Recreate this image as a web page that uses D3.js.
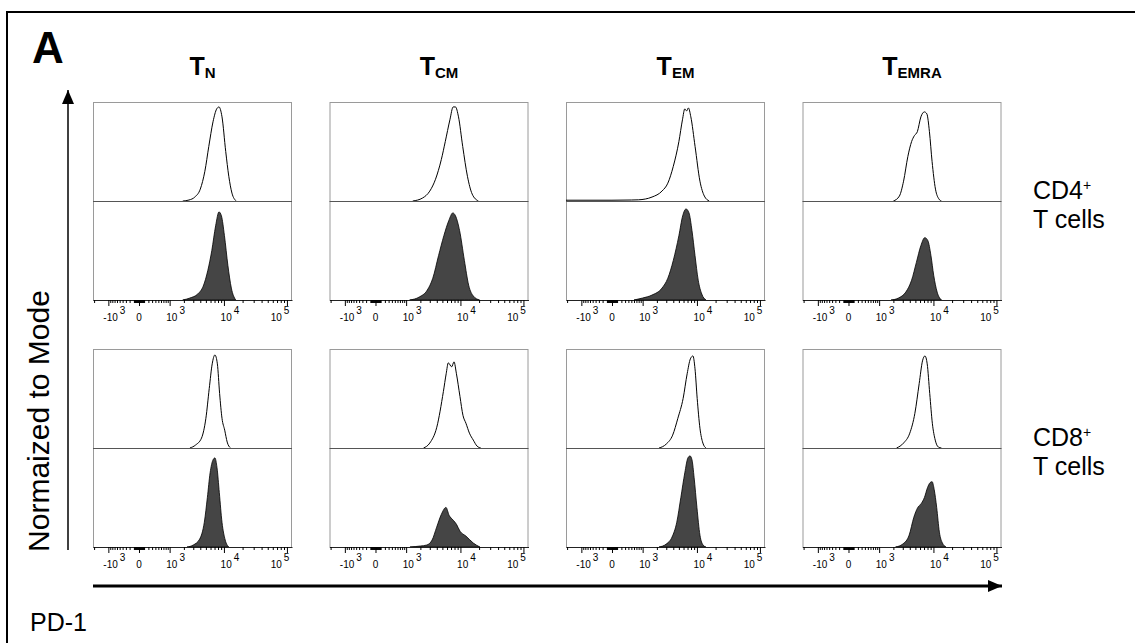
<!DOCTYPE html>
<html>
<head>
<meta charset="utf-8">
<script src="https://cdn.jsdelivr.net/npm/d3@7"></script>
<style>
  body { margin: 0; background: #fff; }
  text { font-family: "Liberation Sans", Arial, sans-serif; fill: #000; }
</style>
</head>
<body>
<svg id="fig" width="1135" height="643"></svg>
<script>
// column headers: T + subscript
const colSub = ["N", "CM", "EM", "EMRA"];
// row labels
const rowNames = ["CD4", "CD8"];
const rowSecond = "T cells";

// PD-1 axis (biexponential-like display)
const majorTicks = [-1000, 0, 1000, 10000, 100000];
const majorBase = ["-10", "0", "10", "10", "10"];
const majorExp = ["3", "", "3", "4", "5"];
const minorTicks = [-2000, -900, -800, -700, -600, -500, -400, -300, -200, -100,
  -90, -80, -70, -60, -50, -40, -30, -20, -10, 10, 20, 30, 40, 50, 60, 70, 80, 90,
  100, 200, 300, 400, 500, 600, 700, 800, 900,
  2000, 3000, 4000, 5000, 6000, 7000, 8000, 9000,
  20000, 30000, 40000, 50000, 60000, 70000, 80000, 90000];

// histograms: [PD-1 intensity, height normalized to mode]
// CD4+ T cells, open (upper) traces
const cd4OpenTN = [[1900, 0], [2500, 0.01], [3200, 0.04], [4000, 0.12], [4800, 0.3], [5600, 0.55], [6600, 0.8], [7600, 0.93], [8300, 0.95], [9300, 0.85], [10700, 0.5], [12000, 0.25], [13500, 0.08], [15800, 0]];
const cd4OpenTCM = [[1400, 0], [2200, 0.03], [3000, 0.1], [3800, 0.22], [4800, 0.42], [5600, 0.6], [6700, 0.82], [7600, 0.95], [8300, 0.95], [9300, 0.85], [10900, 0.55], [13000, 0.25], [15500, 0.07], [19500, 0]];
const cd4OpenTEM = [[-2100, 0.008], [0, 0.008], [500, 0.01], [800, 0.012], [1600, 0.04], [2500, 0.1], [3200, 0.18], [4000, 0.35], [5000, 0.6], [5750, 0.82], [6300, 0.93], [6760, 0.91], [7240, 0.94], [7940, 0.85], [9330, 0.55], [11200, 0.2], [13200, 0.05], [15800, 0]];
const cd4OpenTEMRA = [[2000, 0], [2600, 0.05], [3100, 0.2], [3700, 0.45], [4300, 0.6], [4800, 0.66], [5400, 0.7], [6200, 0.85], [7100, 0.9], [7800, 0.88], [8600, 0.7], [9500, 0.4], [10800, 0.12], [12300, 0.02], [13500, 0]];
// CD4+ T cells, filled (lower) traces
const cd4FillTN = [[1900, 0], [2600, 0.02], [3600, 0.06], [4500, 0.14], [5400, 0.3], [6300, 0.5], [7300, 0.75], [8300, 0.89], [9100, 0.85], [10200, 0.65], [11600, 0.35], [13200, 0.12], [15500, 0]];
const cd4FillTCM = [[1200, 0], [1900, 0.03], [2700, 0.1], [3400, 0.22], [4300, 0.45], [5300, 0.65], [6400, 0.8], [7500, 0.88], [8300, 0.85], [9700, 0.7], [11600, 0.4], [13600, 0.15], [16200, 0.04], [20300, 0]];
const cd4FillTEM = [[600, 0], [1000, 0.02], [1600, 0.05], [2500, 0.12], [3200, 0.22], [4000, 0.4], [5000, 0.65], [5800, 0.85], [6600, 0.92], [7400, 0.88], [8300, 0.7], [9300, 0.45], [10500, 0.2], [12000, 0.06], [14000, 0]];
const cd4FillTEMRA = [[1800, 0], [2500, 0.02], [3400, 0.08], [4300, 0.2], [5200, 0.38], [6200, 0.55], [7200, 0.63], [8100, 0.6], [9100, 0.45], [10100, 0.25], [11500, 0.08], [13500, 0]];
// CD8+ T cells, open (upper) traces
const cd8OpenTN = [[2600, 0], [3300, 0.03], [4200, 0.1], [5000, 0.3], [5700, 0.6], [6400, 0.85], [7100, 0.94], [7800, 0.85], [8500, 0.55], [9300, 0.3], [10300, 0.18], [11300, 0.06], [12800, 0]];
const cd8OpenTCM = [[2300, 0], [3000, 0.05], [4000, 0.21], [5200, 0.57], [5800, 0.75], [6300, 0.86], [7170, 0.82], [7840, 0.87], [8600, 0.75], [9830, 0.52], [11000, 0.33], [12300, 0.25], [14000, 0.15], [16150, 0.08], [18500, 0.02], [21300, 0]];
const cd8OpenTEM = [[2200, 0], [3000, 0.04], [3900, 0.13], [4800, 0.3], [5900, 0.5], [6900, 0.75], [7800, 0.9], [8600, 0.93], [9300, 0.8], [10100, 0.5], [11200, 0.2], [12500, 0.05], [14000, 0]];
const cd8OpenTEMRA = [[2300, 0], [3100, 0.05], [4000, 0.15], [4900, 0.35], [5800, 0.65], [6600, 0.88], [7250, 0.93], [7900, 0.85], [8700, 0.55], [9600, 0.25], [10700, 0.08], [12000, 0.01], [13500, 0]];
// CD8+ T cells, filled (lower) traces
const cd8FillTN = [[2300, 0], [3000, 0.02], [3900, 0.08], [4700, 0.25], [5300, 0.5], [5900, 0.75], [6600, 0.88], [7100, 0.9], [7700, 0.8], [8400, 0.55], [9300, 0.25], [10500, 0.07], [12000, 0]];
const cd8FillTCM = [[1220, 0], [2000, 0.01], [2640, 0.02], [3300, 0.07], [3980, 0.2], [4800, 0.33], [5750, 0.4], [6500, 0.32], [7630, 0.27], [8600, 0.23], [9830, 0.16], [12300, 0.11], [16150, 0.04], [20600, 0]];
const cd8FillTEM = [[2200, 0], [3000, 0.03], [3800, 0.1], [4600, 0.25], [5400, 0.5], [6300, 0.75], [7100, 0.9], [7700, 0.92], [8300, 0.88], [9000, 0.7], [10000, 0.4], [11200, 0.12], [12600, 0.02], [14000, 0]];
const cd8FillTEMRA = [[2200, 0], [3000, 0.03], [3900, 0.12], [4700, 0.3], [5500, 0.4], [6300, 0.44], [7100, 0.5], [8000, 0.6], [8800, 0.65], [9500, 0.66], [10300, 0.58], [11300, 0.4], [12500, 0.15], [14000, 0.04], [16000, 0]];

const openData = [
  [cd4OpenTN, cd4OpenTCM, cd4OpenTEM, cd4OpenTEMRA],
  [cd8OpenTN, cd8OpenTCM, cd8OpenTEM, cd8OpenTEMRA]
];
const fillData = [
  [cd4FillTN, cd4FillTCM, cd4FillTEM, cd4FillTEMRA],
  [cd8FillTN, cd8FillTCM, cd8FillTEM, cd8FillTEMRA]
];

// layout
const panelW = 199, subH = 99;
const colX = [93, 329.5, 566, 802.5];
const rowY = [102, 349];

const svg = d3.select("#fig");

// frame (left + top only, the rest is cut off)
svg.append("path")
  .attr("d", "M7,643V12H1135")
  .attr("fill", "none").attr("stroke", "#000").attr("stroke-width", 2);

svg.append("text")
  .attr("x", 32).attr("y", 63)
  .style("font-size", "44px").style("font-weight", "bold")
  .text("A");

// arrowheads
const defs = svg.append("defs");
defs.append("marker")
  .attr("id", "arrow")
  .attr("viewBox", "0 0 14 12")
  .attr("refX", 14).attr("refY", 6)
  .attr("markerWidth", 14).attr("markerHeight", 12)
  .attr("markerUnits", "userSpaceOnUse")
  .attr("orient", "auto")
  .append("path").attr("d", "M0,0L14,6L0,12Z").attr("fill", "#000");

// y arrow + label
svg.append("line")
  .attr("x1", 68).attr("y1", 550).attr("x2", 68).attr("y2", 90)
  .attr("stroke", "#000").attr("stroke-width", 1.5)
  .attr("marker-end", "url(#arrow)");
svg.append("text")
  .attr("transform", "translate(49,421) rotate(-90)")
  .attr("text-anchor", "middle")
  .style("font-size", "30px")
  .text("Normaized to Mode");

// x arrow + label
svg.append("line")
  .attr("x1", 93).attr("y1", 586).attr("x2", 1002).attr("y2", 586)
  .attr("stroke", "#000").attr("stroke-width", 3)
  .attr("marker-end", "url(#arrow)");
svg.append("text")
  .attr("x", 30).attr("y", 631)
  .style("font-size", "25px")
  .text("PD-1");

const x = d3.scaleSymlog().constant(500).domain([-2100, 120000]).range([0, panelW]);
const y = d3.scaleLinear().domain([0, 1]).range([subH, 0]);

const line = d3.line().x(d => x(d[0])).y(d => y(d[1])).curve(d3.curveMonotoneX);
const area = d3.area().x(d => x(d[0])).y0(subH).y1(d => y(d[1])).curve(d3.curveMonotoneX);

// column headers
colSub.forEach((s, c) => {
  const t = svg.append("text")
    .attr("x", colX[c] + panelW / 2 + 10).attr("y", 75)
    .attr("text-anchor", "middle")
    .style("font-weight", "bold");
  t.append("tspan").style("font-size", "25px").text("T");
  t.append("tspan").style("font-size", "15px").attr("dy", 3).text(s);
});

// row labels
rowNames.forEach((n, r) => {
  const t = svg.append("text").attr("x", 1033).attr("y", rowY[r] + 97).style("font-size", "25px");
  t.append("tspan").text(n);
  t.append("tspan").attr("dy", -9).style("font-size", "14px").text("+");
  svg.append("text").attr("x", 1033).attr("y", rowY[r] + 126).style("font-size", "25px").text(rowSecond);
});

rowY.forEach((ry, r) => {
  colX.forEach((cx, c) => {
    const g = svg.append("g").attr("transform", `translate(${cx},${ry})`);

    // frame
    g.append("rect")
      .attr("x", 0.5).attr("y", 0.5)
      .attr("width", panelW - 1).attr("height", 2 * subH)
      .attr("fill", "none").attr("stroke", "#9a9a9a");

    // upper: open histogram
    g.append("path")
      .datum(openData[r][c])
      .attr("d", line)
      .attr("fill", "none").attr("stroke", "#000").attr("stroke-width", 1);
    g.append("line")
      .attr("x1", 0).attr("x2", panelW)
      .attr("y1", subH + 0.5).attr("y2", subH + 0.5)
      .attr("stroke", "#555");

    // lower: filled histogram
    const low = g.append("g").attr("transform", `translate(0,${subH})`);
    low.append("path")
      .datum(fillData[r][c])
      .attr("d", area)
      .attr("fill", "#454545").attr("stroke", "#000").attr("stroke-width", 0.8);

    // axis: minor + major ticks
    const ax = low.append("g").attr("transform", `translate(0,${subH})`);
    ax.call(d3.axisBottom(x).tickValues(minorTicks).tickSize(3).tickSizeOuter(0).tickFormat(""));
    ax.select(".domain").attr("stroke", "#222");
    const axMaj = low.append("g").attr("transform", `translate(0,${subH})`);
    axMaj.call(d3.axisBottom(x).tickValues(majorTicks).tickSize(6).tickSizeOuter(0).tickFormat(""));
    axMaj.select(".domain").remove();

    majorTicks.forEach((v, i) => {
      const lab = low.append("text")
        .attr("y", subH + 21)
        .attr("text-anchor", "middle")
        .style("font-size", "10px");
      lab.append("tspan").text(majorBase[i]);
      if (majorExp[i]) lab.append("tspan").attr("dy", -7).attr("dx", 2).text(majorExp[i]);
      const cxl = Math.min(x(v) + (v === 0 ? 0 : 6), panelW - 12);
      lab.attr("x", cxl);
    });
  });
});
</script>
</body>
</html>
